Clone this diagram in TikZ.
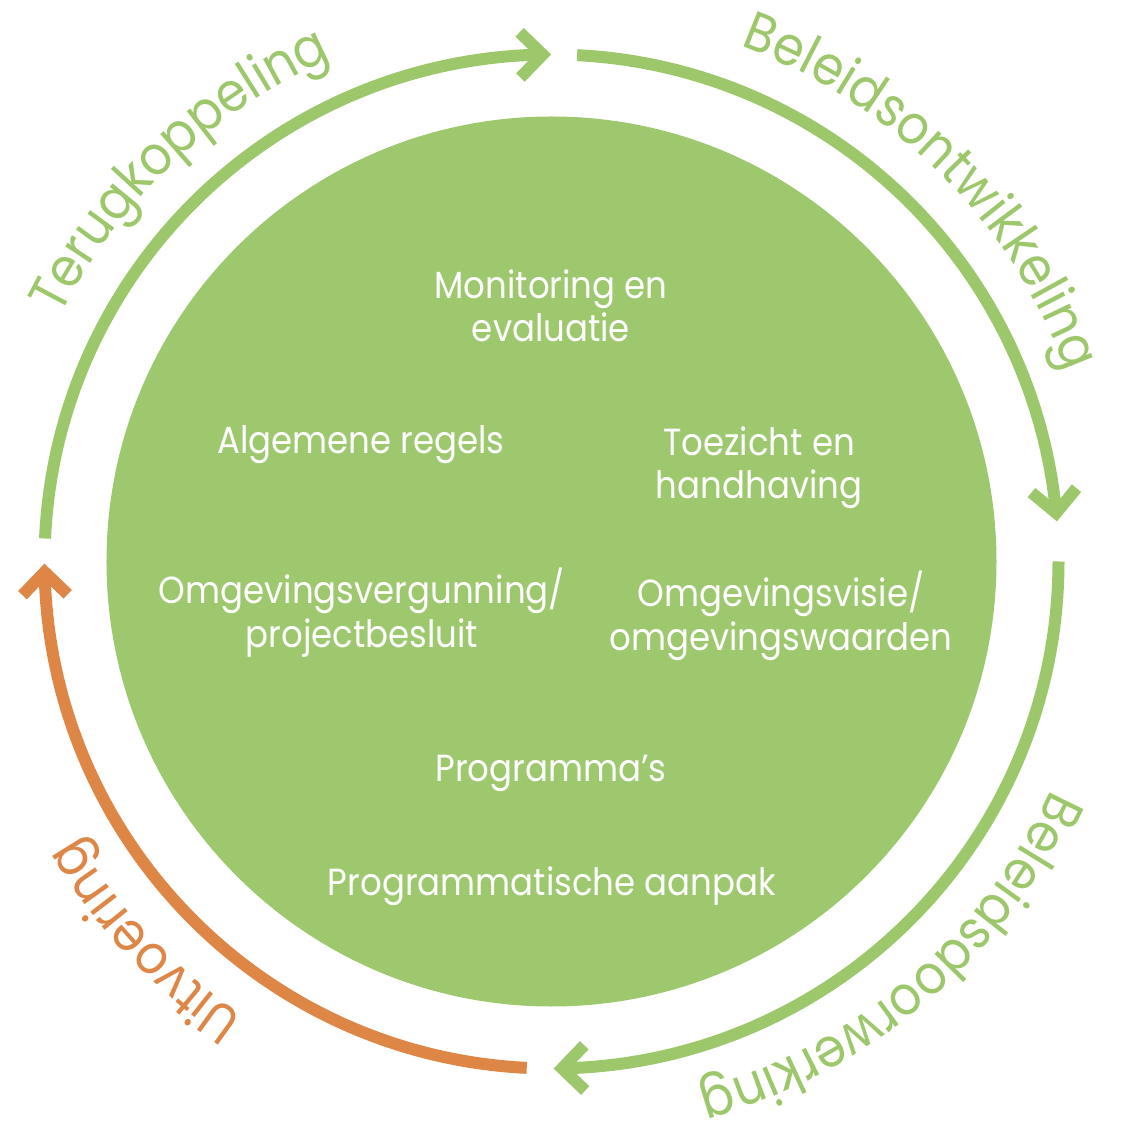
\documentclass[tikz,border=0pt]{standalone}
\usepackage{fontspec}
\setmainfont{Poppins}[FakeStretch=0.9]
\usetikzlibrary{decorations.text}
\definecolor{cgreen}{HTML}{9DC86E}
\definecolor{rgreen}{HTML}{9CC86B}
\definecolor{corange}{HTML}{DE8646}
\newcommand{\innerfont}{\fontsize{21.5pt}{25pt}\selectfont}
\newcommand{\outerfont}{\fontsize{31pt}{36pt}\selectfont}
\newcommand{\mychev}[2]{\draw[chev,#2] (#1:507) ++(#1+45:32) -- (#1:507) -- ++(#1+135:32);}
\begin{document}
\begin{tikzpicture}[x=0.02cm,y=0.02cm,
  ring/.style={line width=0.24cm, line cap=butt},
  chev/.style={line width=0.24cm, line cap=butt, line join=miter},
  lbl/.style={text=white, align=center, font=\innerfont, inner sep=0pt, anchor=base},
  arclbl/.style 2 args={decorate, decoration={text along path, text align=center, text color=#2, text={|\outerfont|#1}}}
]
\useasboundingbox (-551.5,-563.5) rectangle (573.5,561.5);
\fill[cgreen] (0,0) circle (445);

% ring arcs
\draw[ring, rgreen] (87.1:507) arc[start angle=87.1, end angle=5.5, radius=507];
\mychev{5.5}{rgreen}
\draw[ring, rgreen] (0:507) arc[start angle=0, end angle=-88.8, radius=507];
\mychev{-88.8}{rgreen}
\draw[ring, corange] (267.2:507) arc[start angle=267.2, end angle=181.2, radius=507];
\mychev{181.2}{corange}
\draw[ring, rgreen] (177.4:507) arc[start angle=177.4, end angle=91, radius=507];
\mychev{91}{rgreen}

% labels along the ring
\path[arclbl={Terugkoppeling}{rgreen}] (173.5:549) arc[start angle=173.5, end angle=93.5, radius=549];
\path[arclbl={Beleidsontwikkeling}{rgreen}] (85:549) arc[start angle=85, end angle=5, radius=549];
\path[arclbl={Beleidsdoorwerking}{rgreen}] (-9.5:549) arc[start angle=-9.5, end angle=-89.5, radius=549];
\path[arclbl={Uitvoering}{corange}] (263:549) arc[start angle=263, end angle=183, radius=549];

% inner labels (base = baseline of last line)
\node[lbl] (mon) at (-0.5,219.5) {Monitoring en\\evaluatie};
\node[lbl] (alg) at (-190.5,107.5) {Algemene regels};
\node[lbl] (toe) at (207.5,62.5) {Toezicht en\\handhaving};
\node[lbl] (ovg) at (-189.5,-85.5) {Omgevingsvergunning/\\projectbesluit};
\node[lbl] (ovv) at (229.5,-88.5) {Omgevingsvisie/\\omgevingswaarden};
\node[lbl] (prg) at (-0.5,-219.5) {Programma’s};
\node[lbl] (pra) at (0.5,-333.5) {Programmatische aanpak};
\end{tikzpicture}
\end{document}
